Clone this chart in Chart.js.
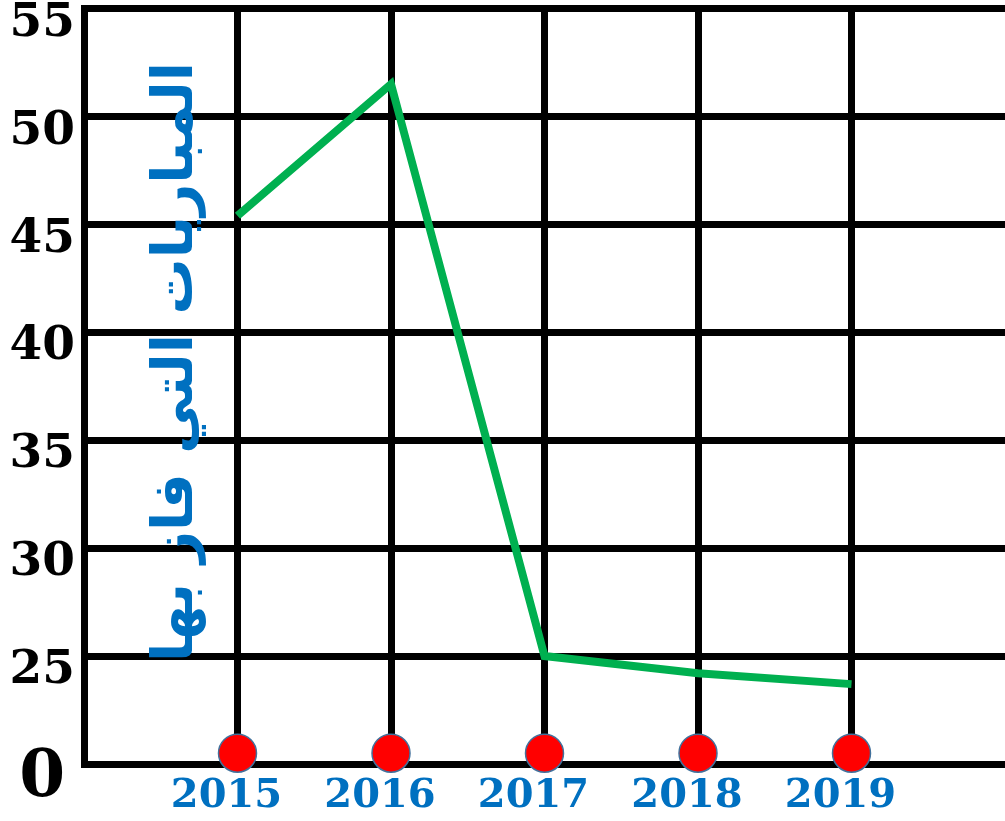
<!DOCTYPE html>
<html lang="ar">
<head>
  <meta charset="UTF-8" />
  <title>المباريات التي فاز بها</title>
  <script src="https://cdn.jsdelivr.net/npm/chart.js"></script>
  <style>
    body {
      margin: 0;
      background: #fff;
    }
    #wrap {
      width: 1005px;
      height: 821px;
    }
  </style>
</head>
<body>
<div id="wrap"><canvas id="chart"></canvas></div>

<script>
  // data
  const years = [2015, 2016, 2017, 2018, 2019];
  const wins = [45.4, 51.5, 25.0, 24.2, 23.7];
  const dotLevel = [20.5, 20.5, 20.5, 20.5, 20.5];
  const yTickValues = [20, 25, 30, 35, 40, 45, 50, 55];
  const yTickLabels = ['0', '25', '30', '35', '40', '45', '50', '55'];
  const axisTitle = 'المباريات التي فاز بها';

  const blue = '#0070C0';

  // vertical arabic title drawn inside the first column
  const titlePlugin = {
    id: 'arabicTitle',
    afterDraw(chart) {
      const ctx = chart.ctx;
      ctx.save();
      ctx.fillStyle = blue;
      ctx.direction = 'rtl';
      ctx.textAlign = 'center';
      ctx.textBaseline = 'alphabetic';
      let size = 60;
      ctx.font = 'bold ' + size + 'px "DejaVu Sans"';
      const w = ctx.measureText(axisTitle).width;
      size = size * 600 / w;
      ctx.font = 'bold ' + size + 'px "DejaVu Sans"';
      ctx.translate(192, 362);
      ctx.rotate(-Math.PI / 2);
      ctx.fillText(axisTitle, 0, 0);
      ctx.restore();
    }
  };

  function noPad(s) {
    s.paddingTop = 0;
    s.paddingBottom = 0;
    s.paddingLeft = 0;
    s.paddingRight = 0;
  }

  new Chart(document.getElementById('chart'), {
    type: 'line',
    data: {
      datasets: [
        {
          data: years.map((y, i) => ({ x: y, y: wins[i] })),
          borderColor: '#00B050',
          borderWidth: 8,
          borderCapStyle: 'butt',
          borderJoinStyle: 'miter',
          pointRadius: 0,
          tension: 0,
          fill: false
        },
        {
          data: years.map((y, i) => ({ x: y, y: dotLevel[i] })),
          showLine: false,
          pointRadius: 19,
          pointBackgroundColor: '#FF0000',
          pointBorderColor: '#41719C',
          pointBorderWidth: 1.5,
          clip: false
        }
      ]
    },
    options: {
      responsive: true,
      maintainAspectRatio: false,
      animation: false,
      layout: { autoPadding: false, padding: { top: 8.5, right: 0, left: 0, bottom: 0 } },
      plugins: {
        legend: { display: false },
        tooltip: { enabled: false }
      },
      scales: {
        x: {
          type: 'linear',
          min: 2014,
          max: 2020,
          afterFit(s) { s.height = 57; noPad(s); },
          ticks: {
            stepSize: 1,
            padding: 9,
            labelOffset: -11,
            color: blue,
            font: { family: '"DejaVu Serif"', size: 40, weight: 'bold' },
            callback: v => years.includes(v) ? String(v) : ''
          },
          grid: {
            drawTicks: false,
            lineWidth: 7,
            color: c => (c.tick && c.tick.value === 2020) ? 'rgba(0,0,0,0)' : '#000'
          },
          border: { color: '#000', width: 6 }
        },
        y: {
          min: 20,
          max: 55,
          afterFit(s) { s.width = 84; noPad(s); },
          afterBuildTicks(s) { s.ticks = yTickValues.map(v => ({ value: v })); },
          ticks: {
            padding: 9,
            crossAlign: 'center',
            labelOffset: 15,
            color: '#000',
            font: c => ({
              family: '"DejaVu Serif"',
              size: (c.tick && c.tick.value === 20) ? 66 : 47,
              weight: 'bold'
            }),
            callback: v => yTickLabels[yTickValues.indexOf(v)]
          },
          grid: {
            drawTicks: false,
            lineWidth: 7,
            color: '#000'
          },
          border: { color: '#000', width: 7 }
        }
      }
    },
    plugins: [titlePlugin]
  });
</script>
</body>
</html>
